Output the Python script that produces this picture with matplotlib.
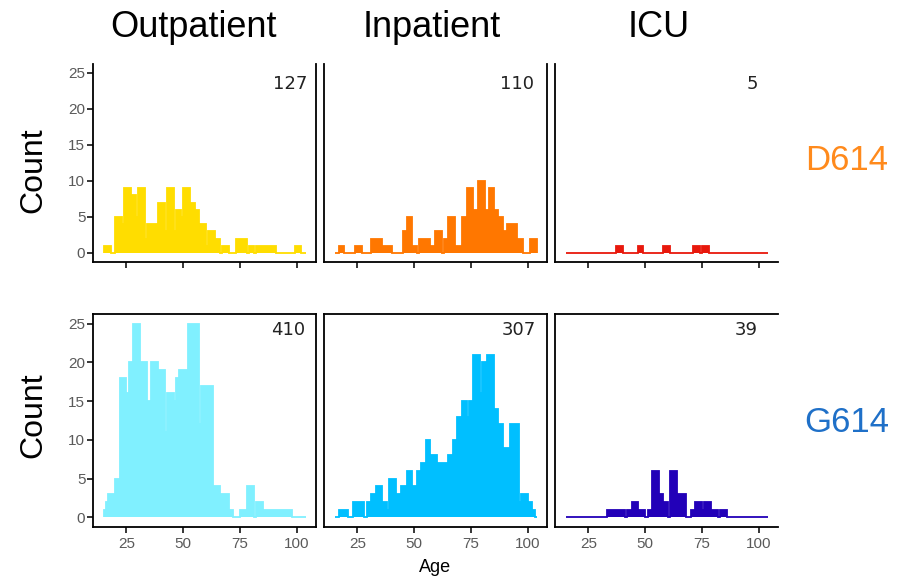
import numpy as np
import matplotlib
matplotlib.use("Agg")
import matplotlib.pyplot as plt

plt.rcParams['font.family'] = ['Liberation Sans', 'DejaVu Sans']

# one-year age bins, starting ages 15 .. 103
ages = np.arange(15, 104)
edges = np.append(ages, 104)

# counts per bin (ages 15-19, 20-29, ..., 100-103)
d614_outpatient = [1, 1, 1, 0, 0,
                   5, 5, 5, 4, 9, 9, 9, 8, 8, 5,
                   9, 9, 9, 2, 4, 4, 4, 4, 4, 7,
                   7, 7, 3, 9, 9, 9, 3, 6, 6, 5,
                   9, 9, 9, 7, 7, 6, 6, 4, 4, 4,
                   1, 3, 3, 3, 2, 2, 0, 1, 1, 1,
                   0, 0, 0, 2, 2, 2, 2, 2, 0, 1,
                   1, 0, 1, 1, 1, 1, 1, 1, 1, 1,
                   1, 0, 0, 0, 0, 0, 0, 0, 0, 1,
                   1, 1, 0, 0]
d614_inpatient = [0, 0, 1, 1, 0,
                  0, 0, 0, 0, 1, 1, 1, 0, 0, 0,
                  0, 2, 2, 2, 2, 2, 1, 1, 1, 1,
                  0, 0, 0, 0, 0, 3, 3, 5, 5, 1,
                  1, 0, 2, 2, 2, 2, 2, 1, 1, 3,
                  3, 3, 0, 2, 2, 5, 5, 5, 1, 1,
                  1, 5, 5, 9, 9, 9, 6, 6, 10, 10,
                  10, 6, 6, 9, 9, 6, 6, 5, 5, 3,
                  3, 4, 4, 4, 4, 2, 2, 2, 0, 0,
                  0, 2, 2, 2]
d614_icu = [0, 0, 0, 0, 0,
            0, 0, 0, 0, 0, 0, 0, 0, 0, 0,
            0, 0, 0, 0, 0, 0, 0, 1, 1, 1,
            0, 0, 0, 0, 0, 0, 0, 1, 1, 0,
            0, 0, 0, 0, 0, 0, 0, 0, 1, 1,
            1, 0, 0, 0, 0, 0, 0, 0, 0, 0,
            0, 1, 1, 1, 0, 1, 1, 1, 0, 0,
            0, 0, 0, 0, 0, 0, 0, 0, 0, 0,
            0, 0, 0, 0, 0, 0, 0, 0, 0, 0,
            0, 0, 0, 0]
g614_outpatient = [1, 2, 3, 3, 3,
                   5, 5, 18, 18, 18, 16, 20, 20, 25, 25,
                   25, 20, 20, 20, 15, 15, 20, 20, 20, 19,
                   19, 19, 11, 16, 16, 16, 15, 18, 19, 19,
                   19, 19, 25, 25, 25, 25, 25, 12, 17, 17,
                   17, 17, 17, 4, 4, 4, 3, 3, 3, 3,
                   1, 1, 0, 0, 0, 1, 1, 1, 4, 4,
                   4, 0, 2, 2, 2, 1, 1, 1, 1, 1,
                   1, 1, 1, 1, 1, 1, 1, 1, 0, 0,
                   0, 0, 0, 0]
g614_inpatient = [0, 0, 1, 1, 1,
                  1, 0, 0, 2, 2, 2, 2, 2, 0, 2,
                  2, 3, 3, 4, 4, 4, 2, 2, 1, 5,
                  5, 5, 3, 3, 4, 4, 4, 6, 6, 4,
                  4, 6, 6, 7, 7, 10, 10, 8, 8, 8,
                  7, 7, 7, 7, 7, 8, 8, 10, 10, 13,
                  13, 15, 15, 13, 15, 15, 21, 21, 21, 16,
                  20, 20, 21, 21, 21, 14, 14, 12, 12, 9,
                  9, 9, 12, 12, 12, 12, 2, 3, 3, 3,
                  2, 2, 1, 0]
g614_icu = [0, 0, 0, 0, 0,
            0, 0, 0, 0, 0, 0, 0, 0, 0, 0,
            0, 0, 0, 1, 1, 1, 1, 1, 1, 1,
            1, 0, 1, 1, 2, 2, 2, 1, 1, 1,
            0, 1, 1, 6, 6, 6, 3, 3, 2, 2,
            0, 6, 6, 6, 3, 3, 3, 3, 0, 0,
            1, 1, 2, 2, 2, 1, 2, 2, 2, 1,
            1, 1, 0, 1, 1, 1, 0, 0, 0, 0,
            0, 0, 0, 0, 0, 0, 0, 0, 0, 0,
            0, 0, 0, 0]

columns = ["Outpatient", "Inpatient", "ICU"]
variants = ["D614", "G614"]
counts = [[d614_outpatient, d614_inpatient, d614_icu],
          [g614_outpatient, g614_inpatient, g614_icu]]
totals = [[127, 110, 5], [410, 307, 39]]

bar_colors = [["#FFDD00", "#FF7700", "#E8180C"],
              ["#80F0FF", "#00BFFF", "#2200B8"]]
variant_colors = ["#FF8A1C", "#1F70C8"]

W, H = 903, 580
fig = plt.figure(figsize=(W / 100, H / 100), dpi=100)


def add_axes_px(left, top, right, bottom):
    return fig.add_axes([left / W, 1 - bottom / H, (right - left) / W, (bottom - top) / H])


col_left = [93, 324, 555]
row_span = [(64, 262), (314, 527)]
# which spines are drawn in each panel: (top, right)
spine_top = [[False, False, False], [True, True, True]]
spine_right = [[True, True, False], [True, True, False]]
label_x = [[0.96, 0.94, 0.91], [0.95, 0.95, 0.91]]
label_y = [0.90, 0.925]

for r in range(2):
    for c in range(3):
        top, bottom = row_span[r]
        ax = add_axes_px(col_left[c], top, col_left[c] + 223, bottom)
        col = bar_colors[r][c]
        ax.stairs(counts[r][c], edges, fill=True, color=col, lw=0)
        ax.stairs(counts[r][c], edges, color=col, lw=1.3)

        ax.set_xlim(10.3, 108.4)
        ax.set_ylim(-1.25, 26.25)
        ax.set_xticks([25, 50, 75, 100])
        ax.set_yticks([0, 5, 10, 15, 20, 25])

        for side in ["left", "bottom", "top", "right"]:
            ax.spines[side].set_linewidth(1.3)
            ax.spines[side].set_color("black")
        ax.spines["top"].set_visible(spine_top[r][c])
        ax.spines["right"].set_visible(spine_right[r][c])

        ax.tick_params(axis="both", direction="out", length=4, width=1.1,
                       colors="black", labelcolor="#5a5a5a", labelsize=11)
        ax.tick_params(axis="y", pad=1.5)
        ax.tick_params(axis="x", pad=3)
        if r == 0:
            ax.tick_params(axis="x", labelbottom=False)
        if c > 0:
            ax.tick_params(axis="y", left=False, labelleft=False)

        ax.text(label_x[r][c], label_y[r], str(totals[r][c]), transform=ax.transAxes,
                ha="right", va="center", fontsize=13, family="DejaVu Sans", color="#222222")

# column titles
for name, xc in zip(columns, [193.5, 431.5, 659]):
    fig.text(xc / W, 1 - 37 / H, name, ha="center", va="baseline", fontsize=26)

# row labels
for name, yc, colr in zip(variants, [160, 423], variant_colors):
    fig.text(847 / W, 1 - yc / H, name, ha="center", va="center", fontsize=25, color=colr)
for yc in [170, 415]:
    fig.text(33 / W, 1 - yc / H, "Count", ha="center", va="center", rotation=90, fontsize=23)

fig.text(435 / W, 1 - 568 / H, "Age", ha="center", va="center", fontsize=13)

fig.savefig("out.png", dpi=100)
